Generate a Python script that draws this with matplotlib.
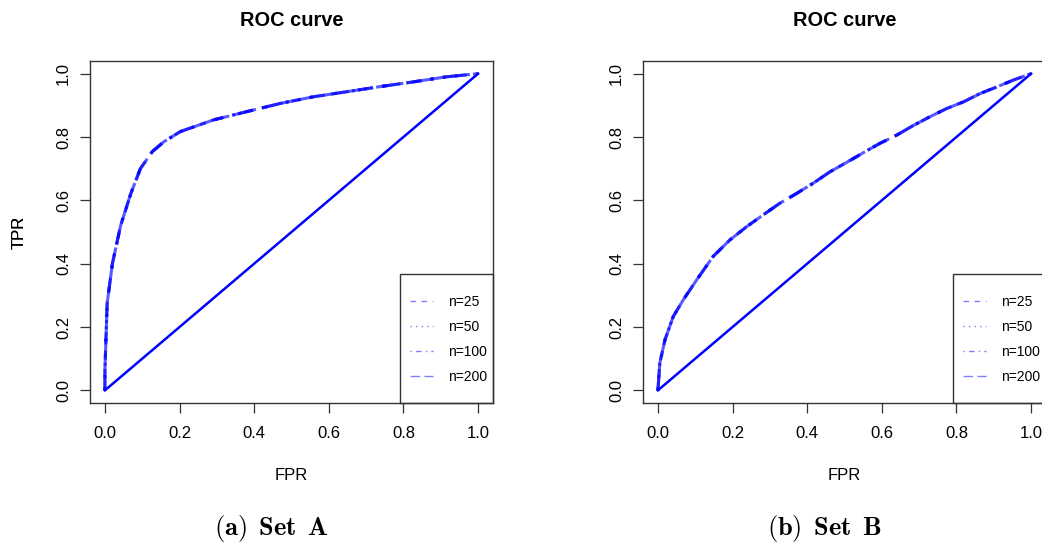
import matplotlib
matplotlib.use('Agg')
import matplotlib.pyplot as plt
from matplotlib.patches import Rectangle

plt.rcParams['font.family'] = ['Liberation Sans', 'DejaVu Sans']
plt.rcParams['mathtext.fontset'] = 'cm'

# ROC points (the four n curves lie on top of each other)
fpr_a = [0, 0.0, 0.006, 0.02, 0.042, 0.069, 0.095, 0.127, 0.158, 0.202, 0.291,
         0.38, 0.47, 0.559, 0.648, 0.737, 0.826, 0.915, 1.0]
tpr_a = [0, 0.065, 0.275, 0.40, 0.52, 0.62, 0.70, 0.754, 0.785, 0.817, 0.854,
         0.88, 0.906, 0.927, 0.943, 0.959, 0.974, 0.99, 1.0]

fpr_b = [0, 0.005, 0.019, 0.041, 0.068, 0.104, 0.148, 0.193, 0.238, 0.282, 0.327,
         0.372, 0.416, 0.461, 0.506, 0.550, 0.595, 0.64, 0.684, 0.729, 0.774,
         0.819, 0.863, 0.908, 0.953, 1.0]
tpr_b = [0, 0.086, 0.16, 0.233, 0.286, 0.349, 0.423, 0.475, 0.517, 0.554, 0.591,
         0.622, 0.654, 0.69, 0.72, 0.75, 0.78, 0.806, 0.836, 0.864, 0.89,
         0.911, 0.937, 0.958, 0.98, 1.0]

diag = [0, 1]
ticks = [0.0, 0.2, 0.4, 0.6, 0.8, 1.0]
tick_labels = ['0.0', '0.2', '0.4', '0.6', '0.8', '1.0']
n_labels = ['n=25', 'n=50', 'n=100', 'n=200']
n_styles = [(0, (4, 4)), (0, (1, 3)), (0, (1, 3, 4, 3)), (0, (7, 3))]

curve_col = (0, 0, 1, 0.65)
legend_col = (0, 0, 1, 0.5)
box_col = '#333333'

W, H = 1042, 546
fig = plt.figure(figsize=(W / 100, H / 100), dpi=100)


def roc_panel(left, fpr, tpr, caption):
    ax = fig.add_axes([left / W, 1 - 403 / H, 403 / W, 342 / H])
    ax.set_xlim(-0.04, 1.04)
    ax.set_ylim(-0.04, 1.04)
    for lab, ls in zip(n_labels, n_styles):
        ax.plot(fpr, tpr, color=curve_col, lw=2.2, linestyle=ls, label=lab)
    ax.plot(diag, diag, color='#0000ff', lw=1.8)

    for s in ax.spines.values():
        s.set_color(box_col)
        s.set_linewidth(1.0)
    ax.set_xticks(ticks, tick_labels)
    ax.set_yticks(ticks, tick_labels)
    ax.tick_params(axis='both', length=7.2, width=0.9, color=box_col, labelsize=12)
    ax.tick_params(axis='x', pad=9.5)
    ax.tick_params(axis='y', pad=6.5)
    for t in ax.get_yticklabels():
        t.set_rotation(90)
        t.set_va('center')

    ax.set_xlabel('FPR', fontsize=12)
    ax.set_ylabel('TPR', fontsize=12)
    ax.xaxis.set_label_coords(0.5, -73 / 342)
    ax.xaxis.label.set_va('center')
    ax.yaxis.set_label_coords((19 - left) / 403, 0.5)
    ax.yaxis.label.set_va('center')

    ax.text(0.5, 1 + 41 / 342, 'ROC curve', transform=ax.transAxes,
            ha='center', va='center', fontsize=14.4, fontweight='bold')

    # legend frame, R style
    ax.add_patch(Rectangle((310 / 403, 0), 93 / 403, 129 / 342, transform=ax.transAxes,
                           fill=False, edgecolor=box_col, lw=1.0, clip_on=False, zorder=5))
    leg = ax.legend(loc='center left', bbox_to_anchor=(313 / 403, 0.187),
                    borderpad=0, frameon=False, fontsize=10, labelspacing=0.79,
                    handlelength=1.65, handletextpad=1.08)
    for line in leg.get_lines():
        line.set_linewidth(1.0)
        line.set_color(legend_col)

    fig.text((left + 181) / W, 1 - 529 / H, caption, ha='center', va='center', fontsize=19)
    return ax


roc_panel(90, fpr_a, tpr_a, r'$\mathbf{(a)\ \,Set\ \,A}$')
roc_panel(643, fpr_b, tpr_b, r'$\mathbf{(b)\ \,Set\ \,B}$')

fig.savefig('out.png', dpi=100)
